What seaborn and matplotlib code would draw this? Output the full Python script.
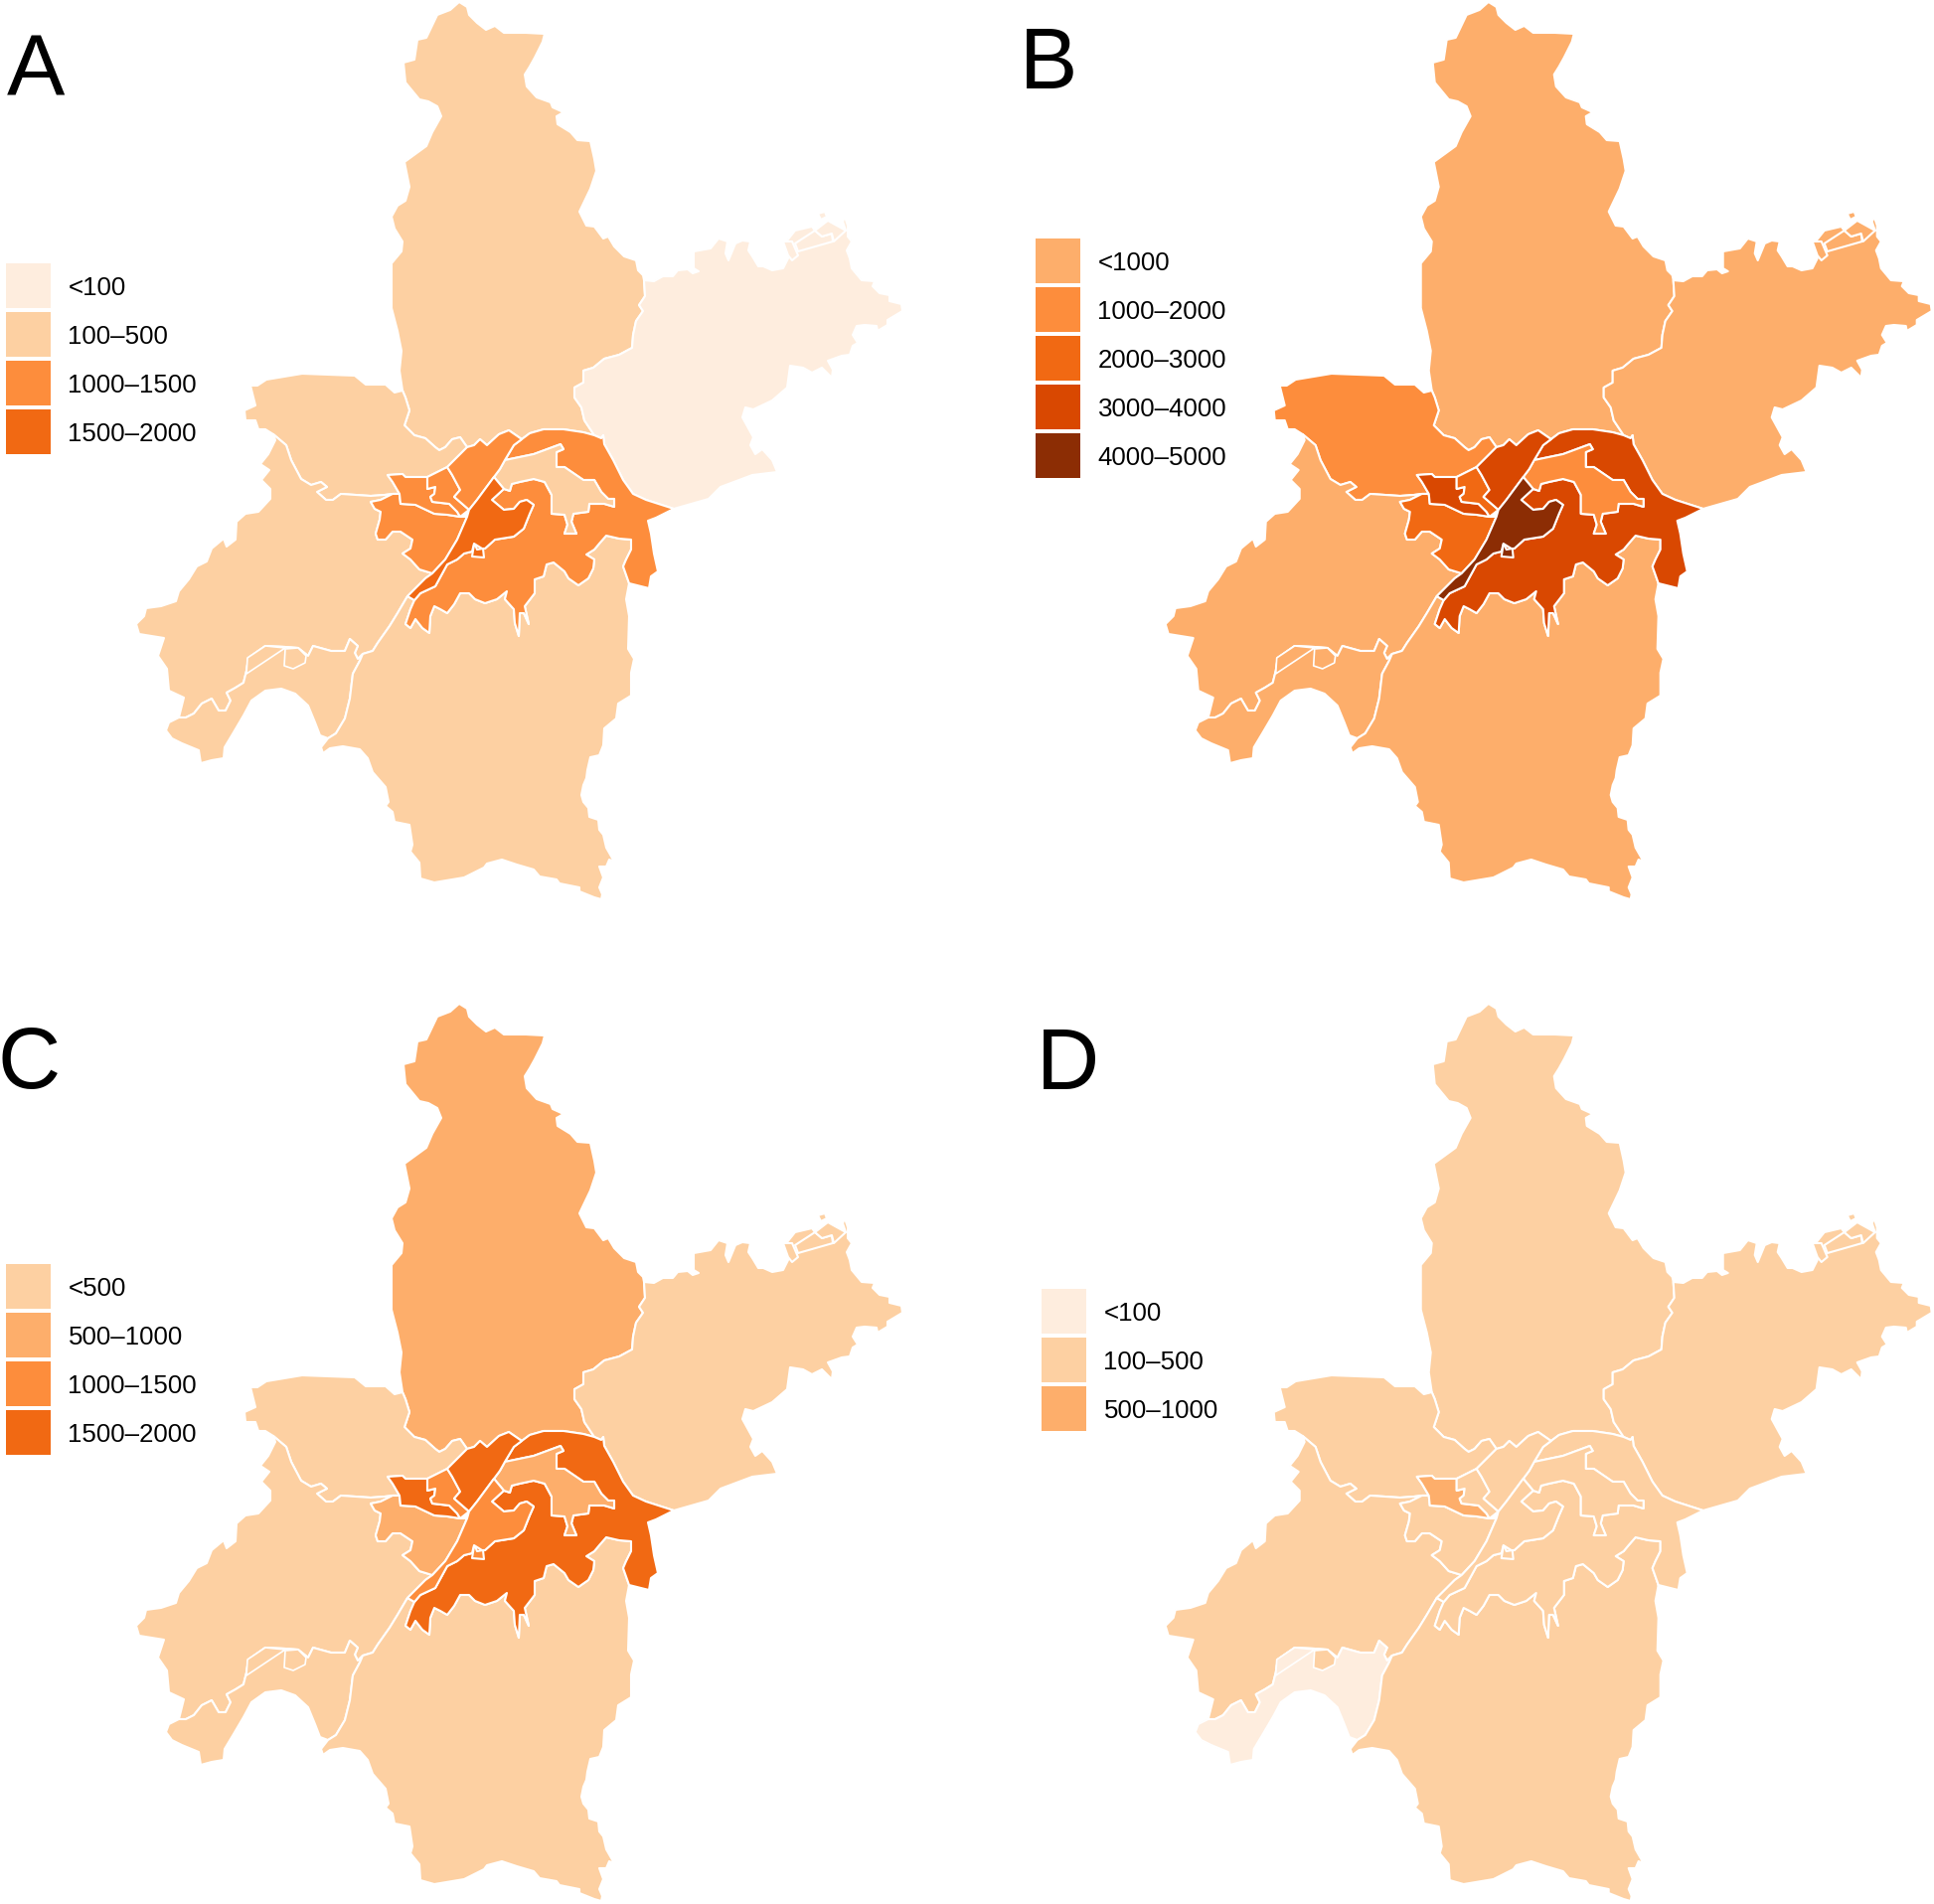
import matplotlib
matplotlib.use("Agg")
import matplotlib.pyplot as plt
from matplotlib.patches import Polygon, Patch
import seaborn as sns

sns.set_theme(style="white")
plt.rcParams["font.family"] = ["Liberation Sans", "DejaVu Sans"]

# ---- map geometry: shared district boundaries ----
HP_WEST = [(405,393),(402,373),(404,353),(400,333),(394,310),(394,265),(404,253),(405,243),(397,230),(394,218),(400,207),(408,202),(412,188),(407,163),(429,147),(435,133),(444,117),(440,107),(431,102),(422,100),(408,83),(406,63),(417,60),(420,40),(429,38),(440,15),(453,10)]
HP_NORTH = [(462,2),(470,7),(472,15),(480,23),(489,30),(498,26),(507,33),(529,33),(548,34),(546,42),(538,58),(533,67),(528,75),(530,87),(540,98),(554,103),(556,108),(567,113),(560,117),(561,125),(574,133),(581,141),(594,142),(598,160),(600,172),(594,190),(583,213),(590,227),(598,228),(607,240),(612,238),(618,248),(628,258),(640,262),(642,272),(647,277)]
HP_XZ = [(648,282),(649,298),(643,307),(647,313),(640,323),(637,337),(636,350),(623,357),(608,361),(597,370),(587,373),(587,385),(578,390),(578,400),(585,410),(588,423),(598,438)]
DX_HP = [(405,393),(408,400),(412,413),(407,428),(417,438),(428,441),(438,450),(442,453),(448,450),(455,442),(463,440),(470,450)]
JA_NORTH = [(470,450),(477,448),(483,442),(490,448),(502,437),(512,433),(525,442)]
BAND_NW = [(525,442),(533,436),(547,432),(567,432),(587,435),(598,438)]
BAND_NE = [(598,438),(605,441),(607,438),(608,447),(617,463),(627,483),(637,497),(650,503),(678,512)]
XZ_OUTER = [(713,502),(725,490),(757,478),(782,475),(777,463),(767,452),(760,457),(755,448),(758,440),(747,420),(750,410),(758,412),(777,403),(792,390),(795,368),(808,370),(817,375),(827,370),(837,380),(838,372),(833,363),(847,358),(855,357),(858,348),(863,345),(858,337),(862,328),(870,327),(882,328),(883,333),(893,327),(893,322),(908,313),(907,306),(895,303),(895,297),(885,295),(878,288),(880,283),(867,282),(857,270),(855,260),(852,252),(857,243),(853,238),(853,227),(850,218),(848,223),(851,232),(833,222),(820,232),(817,228),(800,232),(792,242),(783,243),(792,245),(793,255),(793,260),(788,270),(777,272),(768,268),(763,268),(757,258),(753,252),(755,243),(747,242),(740,245),(733,262),(730,255),(732,243),(723,240),(715,250),(698,253),(698,270),(703,273),(697,275),(692,271),(682,272),(677,278),(667,278),(658,283)]
XZ_BIT_A = [(800,245),(820,232),(827,238),(837,235),(838,243),(803,253)]
XZ_BIT_B = [(788,243),(797,243),(803,257),(797,262),(793,257)]
XZ_BIT_C = [(833,222),(851,232),(839,243),(837,235),(827,238),(820,232)]
XZ_BIT_D = [(823,215),(830,213),(832,218),(826,221)]
HS_SOUTH = [(678,512),(660,521),(652,524),(655,537),(658,557),(662,575),(655,580),(653,592),(633,587),(627,570),(630,563),(635,553),(635,543),(623,542),(610,539),(603,547),(598,553),(590,558),(598,563),(597,572),(592,582),(582,589),(572,582),(568,575),(557,566),(550,568),(547,580),(538,583),(538,597),(528,610),(532,628),(527,617),(523,617),(522,640),(518,627),(517,613),(508,603),(510,595),(500,603),(488,607),(478,603),(472,597),(463,597),(457,608),(450,617),(443,613),(437,610),(433,620),(432,637),(425,632),(418,623),(413,632),(408,628),(413,613),(417,604)]
WC_EAST = [(417,604),(423,597),(438,590),(450,568),(460,563),(467,557),(475,555),(477,547),(485,552),(488,552),(498,543),(517,540),(527,532),(533,517),(537,508),(530,503),(523,505),(517,512),(507,513),(495,503),(507,492)]
QS_NORTH = [(508,463),(537,457),(564,447),(567,452),(560,455),(560,470),(568,470),(587,483),(598,483),(605,495),(612,502),(618,502),(618,510)]
QS_SOUTH = [(618,510),(608,507),(593,507),(592,515),(577,517),(575,525),(580,537),(568,537),(571,528),(568,518),(555,517),(555,498),(548,485),(537,482),(523,485),(515,487),(513,494),(507,492)]
RIVER_UP = [(525,442),(517,448),(508,463),(503,472),(497,480)]
RIVER_JA = [(497,480),(480,503),(472,513)]
RIVER_MID = [(472,513),(470,520),(460,543),(448,563),(435,577)]
RIVER_LOW = [(435,577),(428,582),(410,600)]
RIVER_SW = [(410,600),(400,617),(392,630),(380,647),(375,655),(365,658)]
RIVER_HN = [(365,658),(362,665),(355,678),(352,703),(347,723),(338,738),(330,743)]
JA_JH = [(450,470),(455,478),(463,493),(457,500),(472,513)]
JH_QK = [(430,480),(430,492),(438,490),(437,497),(433,500),(435,505),(452,507),(460,515),(463,520)]
QK_HY = [(402,497),(403,507),(418,508),(437,517),(450,518),(463,520)]
HY_WEST = [(435,577),(422,573),(413,563),(405,557),(413,552),(415,543),(403,535),(395,535),(388,543),(380,543),(378,537),(382,523),(383,515),(377,512),(373,505),(383,503),(395,497),(402,497)]
DX_SOUTH = [(470,450),(450,470),(430,480),(408,480),(405,477),(390,478),(395,485),(402,497)]
DX_WEST = [(275,437),(267,432),(260,432),(257,423),(247,423),(246,413),(257,408),(252,388),(259,388),(268,382),(304,376),(357,378),(368,387),(388,387),(397,395),(405,393)]
DX_CD = [(402,497),(395,497),(387,498),(373,499),(343,497),(335,503),(328,503),(319,495),(329,490),(323,485),(313,488),(303,482),(293,463),(288,448),(275,437)]
CD_WEST = [(275,437),(277,443),(270,457),(262,467),(271,473),(263,483),(272,492),(272,502),(260,515),(247,517),(238,525),(237,543),(228,550),(225,542),(213,552),(208,565),(198,570),(190,583),(180,595),(177,605),(162,610),(147,612),(145,620),(137,628),(140,638),(165,642),(159,660),(168,673),(170,695),(185,702),(180,722)]
CD_HN = [(180,722),(187,722),(195,718),(203,708),(213,703),(220,715),(227,715),(232,705),(228,697),(237,692),(245,687),(248,675),(250,662),(267,650),(287,651),(300,652),(310,660),(315,650),(333,655),(347,655),(352,643),(360,650),(357,657),(360,663),(365,658)]
HN_OUTER = [(322,740),(317,727),(310,710),(297,698),(283,693),(267,695),(253,705),(245,720),(235,737),(226,752),(225,763),(213,765),(202,768),(200,755),(183,748),(173,743),(167,735),(170,727)]
HN_BIT = [(248,678),(249,662),(267,650),(287,652)]
CD_BIT = [(287,653),(286,670),(295,673),(307,667),(308,660),(300,652)]
JX_OUTER = [(323,752),(325,758),(332,753),(345,751),(362,754),(370,763),(375,777),(388,792),(391,807),(388,811),(395,817),(397,827),(412,830),(415,850),(413,857),(422,868),(423,884),(437,888),(467,883),(487,873),(490,869),(505,865),(520,870),(537,875),(543,882),(560,885),(563,889),(583,893),(583,897),(598,903),(605,905),(606,900),(603,893),(607,883),(603,872),(610,872),(613,865),(618,867),(610,853),(607,840),(603,835),(602,825),(593,822),(592,813),(587,807),(585,800),(587,790),(590,783),(591,775),(594,762),(603,760),(607,750),(608,733),(620,723),(622,708),(635,700),(635,677),(638,663),(632,653),(633,620),(630,603),(633,587)]
WC_PATCH = [(477,548),(475,560),(487,561),(486,552),(480,553),(478,548)]

# ---- district order and the class each one falls in, per panel ----
DISTRICTS = ["Huangpi", "Xinzhou", "Dongxihu", "Caidian", "Hannan", "Jiangxia", "Hongshan",
             "Qingshan", "Hanyang", "Qiaokou", "Jianghan", "Jiangan", "Wuchang"]
LEGEND_A = ["<100", "100–500", "1000–1500", "1500–2000"]
COLORS_A = ["#FEEDDE", "#FDD0A2", "#FD8D3C", "#F16913"]
CLASS_A = [1, 0, 1, 1, 1, 1, 2, 1, 2, 2, 2, 2, 3]
LEGEND_B = ["<1000", "1000–2000", "2000–3000", "3000–4000", "4000–5000"]
COLORS_B = ["#FDAE6B", "#FD8D3C", "#F16913", "#D94801", "#8C2D04"]
CLASS_B = [0, 0, 1, 0, 0, 0, 3, 1, 2, 3, 2, 3, 4]
LEGEND_C = ["<500", "500–1000", "1000–1500", "1500–2000"]
COLORS_C = ["#FDD0A2", "#FDAE6B", "#FD8D3C", "#F16913"]
CLASS_C = [1, 0, 0, 0, 0, 0, 3, 1, 1, 3, 2, 3, 2]
LEGEND_D = ["<100", "100–500", "500–1000"]
COLORS_D = ["#FEEDDE", "#FDD0A2", "#FDAE6B"]
CLASS_D = [1, 1, 1, 1, 0, 1, 1, 1, 1, 2, 1, 1, 1]
PANEL_LETTERS = ["A", "B", "C", "D"]

SHAPES = {
    "Huangpi": [HP_WEST + HP_NORTH + HP_XZ + BAND_NW[::-1] + JA_NORTH[::-1] + DX_HP[::-1]],
    "Xinzhou": [HP_XZ + BAND_NE[1:] + XZ_OUTER, XZ_BIT_A, XZ_BIT_B, XZ_BIT_C, XZ_BIT_D],
    "Dongxihu": [DX_WEST + DX_HP[1:] + DX_SOUTH[1:] + DX_CD[1:]],
    "Caidian": [CD_WEST + CD_HN[1:] + RIVER_SW[::-1][1:] + RIVER_LOW[::-1][1:] + HY_WEST[1:] + DX_CD[1:]],
    "Hannan": [CD_HN + RIVER_HN[1:] + HN_OUTER],
    "Jiangxia": [RIVER_SW + RIVER_HN[1:] + JX_OUTER + HS_SOUTH[7:] + [(410, 600)]],
    "Hongshan": [BAND_NW + BAND_NE[1:] + HS_SOUTH[1:] + WC_EAST[1:] + QS_SOUTH[::-1][1:] + QS_NORTH[::-1][1:] + [(517, 448)]],
    "Qingshan": [QS_NORTH + QS_SOUTH[1:] + [(497, 480), (503, 472)]],
    "Hanyang": [QK_HY + [(470, 520)] + RIVER_MID[2:] + HY_WEST[1:]],
    "Qiaokou": [DX_SOUTH[2:6] + [(395, 485), (402, 497)] + QK_HY[1:] + JH_QK[::-1][1:]],
    "Jianghan": [[(430, 480)] + JA_JH + [(463, 520)] + JH_QK[::-1][1:]],
    "Jiangan": [JA_NORTH + RIVER_UP[1:] + RIVER_JA[1:] + JA_JH[::-1][1:] + [(470, 450)]],
    "Wuchang": [RIVER_JA + RIVER_MID[1:] + RIVER_LOW[1:] + WC_EAST + [(497, 480)], WC_PATCH],
}
EXTRA_SHAPES = [("Hannan", HN_BIT), ("Caidian", CD_BIT)]

FIG_W, FIG_H = 1946, 1916
fig = plt.figure(figsize=(FIG_W / 100, FIG_H / 100), dpi=100, facecolor="white")

PANEL_BOX = [(0, 0, 1000, 1000), (1035.7, 0, 910.3, 1000), (0, 1008, 1000, 908), (1035.7, 1008, 910.3, 908)]
LEGEND_AT = [(6, 265), (6.3, 240), (6, 264), (12.3, 289)]
LETTER_AT = [(7, 97), (-9.7, 89), (-2, 87), (7.3, 88)]
PANELS = [(LEGEND_A, COLORS_A, CLASS_A), (LEGEND_B, COLORS_B, CLASS_B),
          (LEGEND_C, COLORS_C, CLASS_C), (LEGEND_D, COLORS_D, CLASS_D)]
FS = 18.6
FS_PX = FS * 100 / 72

for box, leg_at, let_at, letter, (labels, colors, classes) in zip(PANEL_BOX, LEGEND_AT, LETTER_AT, PANEL_LETTERS, PANELS):
    x0, y0, w, h = box
    ax = fig.add_axes([x0 / FIG_W, 1 - (y0 + h) / FIG_H, w / FIG_W, h / FIG_H])
    ax.patch.set_alpha(0)
    ax.set_xlim(0, w)
    ax.set_ylim(h, 0)
    ax.set_xticks([])
    ax.set_yticks([])
    sns.despine(ax=ax, left=True, bottom=True)
    pal = sns.color_palette(colors)
    cls = dict(zip(DISTRICTS, classes))
    for name in DISTRICTS:
        for pts in SHAPES[name]:
            ax.add_patch(Polygon(pts, closed=True, facecolor=pal[cls[name]], edgecolor="white",
                                 linewidth=1.5, joinstyle="round"))
    for name, pts in EXTRA_SHAPES:
        ax.add_patch(Polygon(pts, closed=True, facecolor=pal[cls[name]], edgecolor="white",
                             linewidth=1.2, joinstyle="round"))
    handles = [Patch(facecolor=c, edgecolor="none", linewidth=0) for c in pal]
    leg = ax.legend(handles, labels, loc="upper left", bbox_to_anchor=leg_at, bbox_transform=ax.transData,
                    frameon=False, fontsize=FS, handlelength=45 / FS_PX, handleheight=2.303,
                    labelspacing=4.1 / FS_PX, handletextpad=17.5 / FS_PX, borderpad=0, borderaxespad=0,
                    labelcolor="black")
    for t in leg.get_texts():
        t.set_y(-1.5)
    ax.text(let_at[0], let_at[1], letter, fontsize=63, color="black", va="baseline", ha="left")

fig.savefig("out.png", dpi=100, facecolor="white")
